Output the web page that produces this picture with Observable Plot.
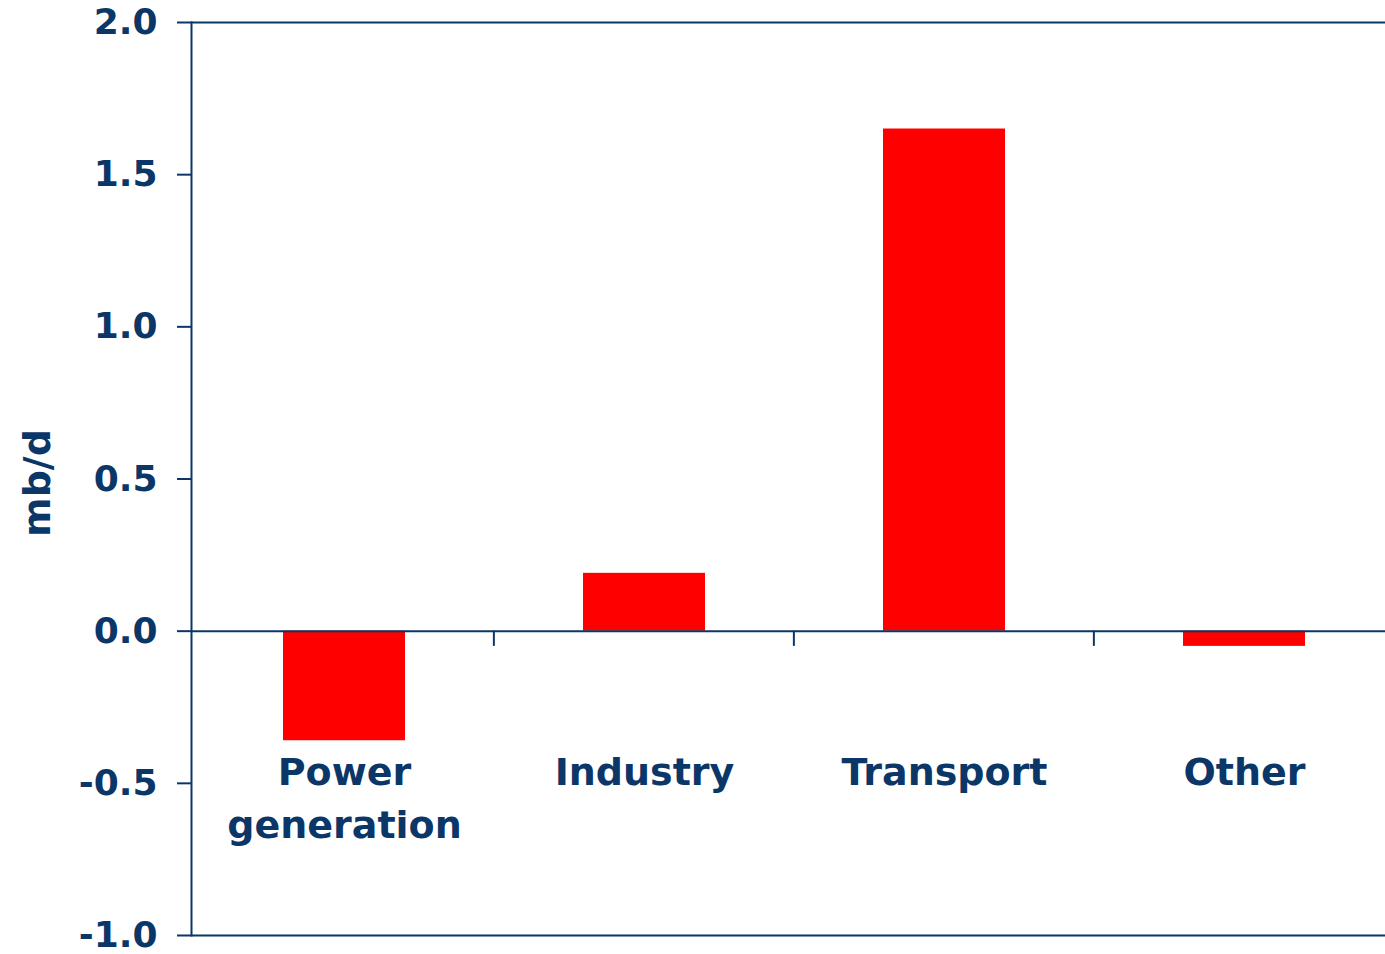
<!DOCTYPE html>
<html>
<head>
<meta charset="utf-8">
<script src="https://cdn.jsdelivr.net/npm/d3@7"></script>
<script src="https://cdn.jsdelivr.net/npm/@observablehq/plot@0.6"></script>
<style>
  html, body { margin: 0; padding: 0; background: white; }
  #chart { width: 1385px; height: 954px; overflow: hidden; }
</style>
</head>
<body>
<div id="chart"></div>
<script>
const categories = ["Power generation", "Industry", "Transport", "Other"];
const labels = ["Power\ngeneration", "Industry", "Transport", "Other"];
const values = [-0.36, 0.19, 1.65, -0.05];
const yTicks = [-1.0, -0.5, 0.0, 0.5, 1.0, 1.5, 2.0];

const ink = "#0b3668";
const font = "'DejaVu Sans', Verdana, sans-serif";
const data = categories.map((c, i) => ({category: c, label: labels[i], value: values[i]}));

const W = 1385, H = 954;
const mL = 191, mT = 22, mB = 19;
const xRange = [mL, 1396];
const step = (xRange[1] - xRange[0]) / categories.length;
const fmt = d => d.toFixed(1);

const chart = Plot.plot({
  width: W,
  height: H,
  marginLeft: mL,
  marginTop: mT,
  marginBottom: mB,
  marginRight: 0,
  style: {fontFamily: font, color: ink, background: "white", overflow: "hidden"},
  x: {domain: categories, range: xRange, paddingInner: 0.595, paddingOuter: 0.3, axis: null},
  y: {domain: [-1, 2], ticks: yTicks, tickFormat: fmt},
  marks: [
    Plot.barY(data, {x: "category", y: "value", fill: "#ff0000"}),
    Plot.ruleY([0, 2, -1], {stroke: ink, strokeWidth: 2}),
    Plot.ruleX(categories.slice(1), {x: d => d, y1: 0, y2: -0.05, dx: -step / 2, stroke: ink, strokeWidth: 2}),
    Plot.axisY({ticks: yTicks, tickFormat: fmt, tickSize: 14, tickPadding: 20,
      fontSize: 36, fontWeight: "bold", stroke: ink, strokeWidth: 2, fill: ink,
      label: null}),
    Plot.frame({anchor: "left", stroke: ink, strokeWidth: 2}),
    Plot.text(data, {x: "category", y: () => -0.4, text: "label", lineAnchor: "top", dy: -5,
      fontSize: 38, fontWeight: "bold", fill: ink, lineHeight: 1.38}),
    Plot.text(["mb/d"], {frameAnchor: "left", textAnchor: "middle", rotate: -90, dx: -154, dy: 4,
      fontSize: 38, fontWeight: "bold", fill: ink})
  ]
});
document.getElementById("chart").appendChild(chart);
</script>
</body>
</html>
